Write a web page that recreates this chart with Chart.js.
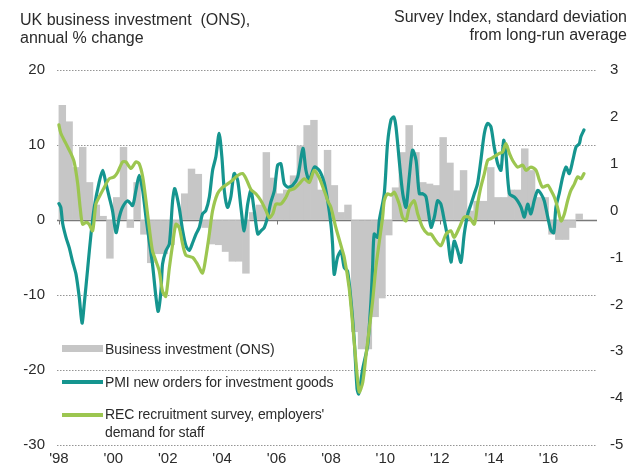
<!DOCTYPE html>
<html><head><meta charset="utf-8">
<script src="https://cdn.jsdelivr.net/npm/chart.js@4.4.1/dist/chart.umd.min.js"></script>
<style>
html,body{margin:0;padding:0;background:#fff;}
#wrap{position:relative;width:643px;height:469px;font-family:"Liberation Sans",Arial,sans-serif;color:#2b2b2b;overflow:hidden;}
canvas{position:absolute;left:0;top:0;}
.title{position:absolute;font-size:16px;line-height:18px;white-space:pre;}
.lg{position:absolute;left:62px;width:41px;}
.lt{position:absolute;left:105px;font-size:14px;line-height:18px;white-space:pre;letter-spacing:-0.1px;}
</style></head>
<body><div id="wrap"><canvas id="c" width="643" height="469"></canvas>
<div class="title" style="left:20px;top:11px">UK business investment  (ONS),
annual % change</div>
<div class="title" style="right:16px;top:8px;text-align:right">Survey Index, standard deviation
from long-run average</div>
<div id="legend"></div>
</div>
<script>
// ---- data ----
const seriesNames = ["Business investment (ONS)", "PMI new orders for investment goods", "REC recruitment survey, employers'\ndemand for staff"];
const seriesColors = ["#c6c6c6", "#15958f", "#9cc650"];
const yearTicks = [1998, 2000, 2002, 2004, 2006, 2008, 2010, 2012, 2014, 2016];
const leftTicks = [-30, -20, -10, 0, 10, 20];
const rightTicks = [-5, -4, -3, -2, -1, 0, 1, 2, 3];

const bizQuarters = [
 "1998Q1","1998Q2","1998Q3","1998Q4","1999Q1","1999Q2","1999Q3","1999Q4",
 "2000Q1","2000Q2","2000Q3","2000Q4","2001Q1","2001Q2","2001Q3","2001Q4",
 "2002Q1","2002Q2","2002Q3","2002Q4","2003Q1","2003Q2","2003Q3","2003Q4",
 "2004Q1","2004Q2","2004Q3","2004Q4","2005Q1","2005Q2","2005Q3","2005Q4",
 "2006Q1","2006Q2","2006Q3","2006Q4","2007Q1","2007Q2","2007Q3","2007Q4",
 "2008Q1","2008Q2","2008Q3","2008Q4","2009Q1","2009Q2","2009Q3","2009Q4",
 "2010Q1","2010Q2","2010Q3","2010Q4","2011Q1","2011Q2","2011Q3","2011Q4",
 "2012Q1","2012Q2","2012Q3","2012Q4","2013Q1","2013Q2","2013Q3","2013Q4",
 "2014Q1","2014Q2","2014Q3","2014Q4","2015Q1","2015Q2","2015Q3","2015Q4",
 "2016Q1","2016Q2","2016Q3","2016Q4","2017Q1"];
const bizValues = [
 15.3, 13.1, 7.0, 9.7,  5.0, 2.0, 0.5, -5.1,
 3.0, 9.7, -1.0, 5.0,  -1.9, -5.7, -4.5, -4.5,
 -3.3, -1.0, 3.5, 6.8,  6.1, -1.0, -3.2, -3.3,
 -4.2, -5.5, -5.5, -7.1,  1.0, 2.0, 9.0, 5.6,
 3.5, 4.0, 5.9, 9.9,  12.6, 13.3, 4.0, 9.3,
 4.6, 1.0, 2.0, -14.9,  -17.2, -17.2, -12.9, -10.4,
 -2.0, 4.3, 9.0, 12.6,  9.0, 5.0, 4.8, 4.6,
 11.0, 7.6, 3.9, 6.6,  1.2, 2.5, 2.5, 7.0,
 3.0, 3.0, 4.0, 4.0,  9.5, 6.6, 3.0, 3.0,
 -1.9, -2.6, -2.6, -1.0,  0.8];

const pmiDates = [
 1998.0,1998.07,1998.14,1998.26,1998.38,1998.50,1998.63,1998.75,1998.85,1998.93,
 1999.06,1999.18,1999.30,1999.48,1999.61,1999.73,1999.85,1999.97,
 2000.10,2000.22,2000.34,2000.53,2000.71,2000.83,2000.95,
 2001.08,2001.20,2001.32,2001.44,2001.57,2001.65,2001.75,2001.81,2001.93,
 2002.06,2002.18,2002.26,2002.42,2002.55,2002.67,2002.79,2002.92,
 2003.04,2003.16,2003.28,2003.40,2003.53,2003.65,2003.77,2003.89,2003.99,
 2004.08,2004.20,2004.32,2004.44,2004.57,2004.69,2004.81,2004.94,
 2005.06,2005.18,2005.31,2005.43,2005.55,2005.67,2005.79,2005.92,
 2006.04,2006.16,2006.28,2006.41,2006.59,2006.78,2006.97,
 2007.08,2007.20,2007.39,2007.57,2007.75,2007.88,
 2008.0,2008.06,2008.12,2008.24,2008.37,2008.49,2008.61,2008.74,2008.86,2008.96,
 2009.02,2009.17,2009.35,2009.47,2009.53,2009.59,2009.72,2009.78,2009.96,
 2010.08,2010.21,2010.31,2010.39,2010.51,2010.64,2010.76,2010.88,
 2011.0,2011.13,2011.25,2011.37,2011.49,2011.60,2011.68,2011.80,2011.92,
 2012.04,2012.17,2012.29,2012.41,2012.53,2012.66,2012.78,2012.90,
 2013.03,2013.15,2013.27,2013.39,2013.51,2013.64,2013.76,2013.88,
 2014.0,2014.13,2014.25,2014.35,2014.43,2014.56,2014.74,2014.86,2014.99,
 2015.11,2015.23,2015.35,2015.47,2015.60,2015.72,2015.84,2015.97,
 2016.09,2016.19,2016.27,2016.39,2016.52,2016.64,2016.76,2016.89,
 2017.01,2017.13,2017.19,2017.30];
const pmiValues = [
 0.15,0.07,-0.28,-0.57,-0.79,-1.08,-1.36,-1.86,-2.40,-2.0,
 -1.22,-0.5,0.07,0.61,0.86,0.58,0.29,0.0,
 -0.47,-0.14,0.07,0.21,0.11,0.43,0.75,
 0.43,-0.14,-0.65,-1.14,-1.86,-2.15,-1.72,-1.14,-0.86,
 -0.71,0.21,0.47,0.07,-0.43,-0.75,-0.85,-0.68,
 -0.5,-0.36,-0.07,0.0,0.29,0.86,1.15,1.65,1.15,
 0.43,0.07,0.29,0.79,0.65,0.07,-0.43,0.14,
 0.43,0.0,-0.5,-0.43,-0.36,-0.14,0.18,0.43,
 0.97,1.0,0.58,0.5,0.54,0.72,1.33,
 0.86,0.65,0.93,0.86,0.6,0.21,
 -0.3,-0.72,-1.36,-1.0,-0.86,-1.22,-1.29,-1.94,-2.80,-3.80,
 -3.91,-3.37,-2.87,-1.94,-1.22,-0.5,-0.57,-0.2,0.36,
 1.43,1.94,2.0,1.79,1.07,0.36,0.07,0.72,
 1.29,1.07,0.36,0.36,0.3,-0.1,-0.36,-0.14,0.21,
 0.14,-0.22,-0.57,-1.1,-0.65,-0.86,-1.1,-0.5,
 -0.07,0.14,0.36,0.58,1.07,1.65,1.86,1.79,
 1.36,1.0,0.86,1.5,1.22,0.36,0.29,0.21,0.07,
 -0.14,0.14,-0.07,0.21,0.43,0.36,0.21,-0.14,
 -0.43,-0.47,0.07,0.36,0.72,0.93,0.79,1.07,
 1.36,1.43,1.58,1.72];

const recDates = [
 1998.0,1998.07,1998.26,1998.44,1998.56,1998.69,1998.78,1998.87,
 1999.0,1999.11,1999.24,1999.36,1999.48,1999.67,1999.85,
 2000.03,2000.16,2000.34,2000.46,2000.65,2000.83,2000.95,
 2001.08,2001.20,2001.32,2001.44,2001.57,2001.69,2001.81,2001.93,
 2002.06,2002.18,2002.30,2002.42,2002.55,2002.67,2002.92,
 2003.10,2003.28,2003.40,2003.53,2003.65,2003.83,
 2004.02,2004.20,2004.38,2004.57,2004.75,2004.88,
 2005.06,2005.24,2005.43,2005.61,2005.73,2005.86,2005.98,
 2006.16,2006.35,2006.47,2006.65,2006.83,
 2007.02,2007.20,2007.39,2007.57,2007.75,2007.89,
 2008.0,2008.18,2008.37,2008.49,2008.67,2008.80,2008.92,
 2009.04,2009.17,2009.29,2009.41,2009.53,2009.65,2009.78,2009.90,2009.96,
 2010.08,2010.21,2010.33,2010.51,2010.63,2010.76,2010.88,
 2011.06,2011.19,2011.37,2011.56,2011.68,2011.86,
 2012.04,2012.23,2012.41,2012.53,2012.72,2012.90,
 2013.08,2013.27,2013.39,2013.51,2013.64,2013.76,2013.88,
 2014.0,2014.19,2014.31,2014.43,2014.56,2014.68,2014.86,
 2015.05,2015.17,2015.35,2015.54,2015.66,2015.78,2015.97,
 2016.09,2016.21,2016.33,2016.46,2016.58,2016.70,2016.82,2016.95,
 2017.07,2017.19,2017.30];
const recValues = [
 1.83,1.65,1.43,1.22,1.04,0.58,0.07,-0.29,
 -0.25,-0.29,-0.43,0.14,0.29,0.5,0.68,
 0.72,0.82,1.04,1.04,0.9,1.04,1.0,
 0.72,0.21,-0.36,-0.86,-1.08,-1.29,-1.72,-1.83,
 -1.22,-0.72,-0.29,-0.36,-0.72,-0.95,-1.0,
 -1.15,-1.33,-1.0,-0.5,0.0,0.36,
 0.5,0.57,0.65,0.75,0.79,0.68,
 0.45,0.36,0.21,0.0,-0.15,-0.07,0.14,
 0.14,0.29,0.43,0.47,0.57,
 0.68,0.6,0.86,0.7,0.43,0.2,
 0.07,-0.36,-0.75,-1.0,-1.65,-2.44,-3.23,
 -3.87,-3.66,-3.08,-2.51,-1.94,-1.22,-0.65,-0.14,0.21,
 0.36,0.33,0.39,0.14,-0.14,-0.22,0.07,
 0.21,-0.07,-0.36,-0.5,-0.5,-0.65,
 -0.75,-0.5,-0.43,-0.57,-0.36,-0.14,
 -0.14,-0.29,0.14,0.5,0.79,1.07,1.11,
 1.15,1.22,1.25,1.43,1.22,1.07,0.93,
 0.97,0.86,0.93,0.86,0.65,0.5,0.54,
 0.43,0.29,0.07,-0.22,-0.07,0.21,0.43,0.57,
 0.72,0.68,0.79];

// ---- build ----
function quarterMid(q){ const y = +q.slice(0,4), n = +q.slice(5); return y + (n-1)*0.25 + 0.125; }
const bizData = bizQuarters.map((q,i)=>({x:quarterMid(q), y:bizValues[i]}));
const pmiData = pmiDates.map((d,i)=>({x:d, y:pmiValues[i]}));
const recData = recDates.map((d,i)=>({x:d, y:recValues[i]}));

// legend (HTML)
const lg = document.getElementById('legend');
const lgTops = [340, 373, 405];
const swTops = [345, 380, 413];
const swH = [7, 3.5, 3.5];
seriesNames.forEach((n,i)=>{
  const s = document.createElement('div'); s.className='lg';
  s.style.top = swTops[i]+'px'; s.style.height = swH[i]+'px'; s.style.background = seriesColors[i];
  lg.appendChild(s);
  const t = document.createElement('div'); t.className='lt';
  t.style.top = lgTops[i]+'px'; t.textContent = n; lg.appendChild(t);
});

Chart.defaults.font.family = '"Liberation Sans", Arial, sans-serif';
Chart.defaults.font.size = 15;
Chart.defaults.color = '#2b2b2b';

const zeroLine = {
  id:'zeroLine',
  beforeDatasetsDraw(chart){
    const c = chart.ctx, xs = chart.scales.x, yl = chart.scales.yL;
    const y0 = Math.round(yl.getPixelForValue(0)) + 0.5;
    c.save();
    c.strokeStyle = '#7a7a7a'; c.lineWidth = 1.3;
    c.beginPath(); c.moveTo(chart.chartArea.left, y0); c.lineTo(chart.chartArea.right, y0); c.stroke();
    c.lineWidth = 1;
    yearTicks.forEach(v=>{
      const x = Math.round(xs.getPixelForValue(v)) + 0.5;
      c.beginPath(); c.moveTo(x, y0); c.lineTo(x, y0 + 4); c.stroke();
    });
    c.restore();
  }
};

new Chart(document.getElementById('c'), {
  type: 'bar',
  data: { datasets: [
    { type:'line', label:seriesNames[2], data:recData, yAxisID:'yR', borderColor:seriesColors[2], borderWidth:3.2,
      pointRadius:0, tension:0.25, borderCapStyle:'round', borderJoinStyle:'round', order:1 },
    { type:'line', label:seriesNames[1], data:pmiData, yAxisID:'yR', borderColor:seriesColors[1], borderWidth:3.2,
      pointRadius:0, tension:0.25, borderCapStyle:'round', borderJoinStyle:'round', order:2 },
    { type:'bar', label:seriesNames[0], data:bizData, yAxisID:'yL', backgroundColor:seriesColors[0],
      barPercentage:1, categoryPercentage:1, borderWidth:0, order:3 }
  ]},
  options: {
    responsive:false, animation:false, devicePixelRatio:1,
    layout:{ padding:{ top:70, left:0, right:0, bottom:0 } },
    plugins:{ legend:{display:false}, tooltip:{enabled:false}, title:{display:false} },
    scales:{
      x:{ type:'linear', min:1997.93, max:2017.78, offset:false,
          grid:{display:false, drawTicks:false}, border:{display:false},
          afterBuildTicks: s => { s.ticks = yearTicks.map(v=>({value:v})); },
          ticks:{ autoSkip:false, maxRotation:0, padding:5, callback: v => "'" + String(v).slice(2) },
          afterFit: s => { s.height = 24; } },
      yL:{ position:'left', min:-30, max:20,
           afterBuildTicks: s => { s.ticks = leftTicks.map(v=>({value:v})); },
           ticks:{ padding:12 },
           grid:{ drawTicks:false, lineWidth:1, color: c => c.tick && c.tick.value === 0 ? 'rgba(0,0,0,0)' : '#959595' },
           border:{ display:false, dash:[1.5,1.5] },
           afterFit: s => { s.width = 57; } },
      yR:{ position:'right', min:-5, max:3,
           afterBuildTicks: s => { s.ticks = rightTicks.map(v=>({value:v})); },
           ticks:{ padding:13 },
           grid:{ display:false, drawTicks:false }, border:{display:false},
           afterFit: s => { s.width = 46; } }
    }
  },
  plugins:[zeroLine]
});
</script>
</body></html>
